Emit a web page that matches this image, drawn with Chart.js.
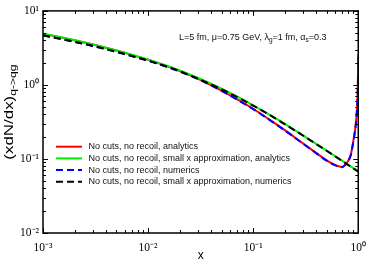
<!DOCTYPE html>
<html>
<head>
<meta charset="utf-8">
<script src="https://cdn.jsdelivr.net/npm/chart.js@4.4.1/dist/chart.umd.min.js"></script>
<style>
  html, body { margin: 0; padding: 0; background: #fff; }
  #wrap { position: relative; width: 374px; height: 260px; }
</style>
</head>
<body>
<div id="wrap"><canvas id="c" width="374" height="260"></canvas></div>
<script>
// x grid shared by all curves
const xs = [0.001, 0.002, 0.003, 0.005, 0.007, 0.01, 0.015, 0.02, 0.03, 0.05, 0.07, 0.1, 0.15, 0.2, 0.3, 0.4, 0.5, 0.6, 0.7, 0.75, 0.8, 0.85, 0.9, 0.93, 0.96, 0.98, 0.99, 0.995, 0.999];

const analytics = [4.92, 4.01, 3.51, 2.91, 2.55, 2.19, 1.80, 1.545, 1.21, 0.84, 0.645, 0.477, 0.325, 0.245, 0.161, 0.120, 0.0955, 0.083, 0.078, 0.083, 0.094, 0.115, 0.179, 0.24, 0.36, 0.59, 0.94, 1.49, 2.6];
const smallXAnalytics = [4.93, 4.02, 3.52, 2.92, 2.56, 2.20, 1.825, 1.572, 1.243, 0.891, 0.700, 0.531, 0.381, 0.297, 0.207, 0.159, 0.1297, 0.1095, 0.0948, 0.0888, 0.0836, 0.0789, 0.0748, 0.0725, 0.0704, 0.0690, 0.0684, 0.0682, 0.0680];
const numerics = [4.67, 3.82, 3.35, 2.79, 2.45, 2.12, 1.76, 1.52, 1.195, 0.83, 0.637, 0.472, 0.322, 0.243, 0.160, 0.119, 0.0948, 0.0825, 0.0775, 0.0825, 0.093, 0.113, 0.175, 0.235, 0.35, 0.57, 0.88, 1.15, 1.36];
const smallXNumerics = [4.68, 3.83, 3.36, 2.80, 2.46, 2.13, 1.775, 1.535, 1.21, 0.875, 0.690, 0.525, 0.378, 0.295, 0.206, 0.158, 0.129, 0.109, 0.0944, 0.0884, 0.0832, 0.0786, 0.0745, 0.0722, 0.0701, 0.0687, 0.0681, 0.0679, 0.0677];

const labels = [
  'No cuts, no recoil, analytics',
  'No cuts, no recoil, small x approximation, analytics',
  'No cuts, no recoil, numerics',
  'No cuts, no recoil, small x approximation, numerics'
];
const colors = ['#ff0000', '#00ee00', '#0000ff', '#000000'];
const dashes = [[], [], [7, 4], [7, 4]];

const xDecades = [1e-3, 1e-2, 1e-1, 1];
const yDecades = [1e-2, 1e-1, 1, 10];
const sup = { '-': '\u207B', '0': '\u2070', '1': '\u00B9', '2': '\u00B2', '3': '\u00B3' };

const decadeLabel = (v) => {
  const e = String(Math.round(Math.log10(v)));
  return '10' + e.split('').map(c => sup[c]).join('');
}

const toPoints = (ys) => xs.map((x, i) => ({ x, y: ys[i] }));

// draws text runs, some of them as subscripts
const drawRuns = (ctx, runs, x, y, size) => {
  let cx = x;
  for (let r of runs) {
    ctx.font = `${r.sub ? size * 0.72 : size}px "Liberation Sans"`;
    ctx.fillText(r.t, cx, r.sub ? y + size * 0.25 : y);
    cx += ctx.measureText(r.t).width;
  }
}
const runsWidth = (ctx, runs, size) => runs.reduce((w, r) => {
  ctx.font = `${r.sub ? size * 0.72 : size}px "Liberation Sans"`;
  return w + ctx.measureText(r.t).width;
}, 0);

const decorations = {
  id: 'decorations',
  afterDatasetsDraw(chart) {
    const { ctx, chartArea: a, scales: { x, y } } = chart;
    ctx.save();
    ctx.strokeStyle = '#000';
    ctx.lineWidth = 1;
    ctx.setLineDash([]);
    ctx.beginPath();
    for (let d of xDecades) {
      for (let m = 1; m <= 9; m++) {
        const v = d * m;
        if (v > 1.0001) break;
        const px = Math.round(x.getPixelForValue(v)) + 0.5;
        const len = m === 1 ? 5 : 3;
        ctx.moveTo(px, a.bottom); ctx.lineTo(px, a.bottom - len);
        ctx.moveTo(px, a.top); ctx.lineTo(px, a.top + len);
      }
    }
    for (let d of yDecades) {
      for (let m = 1; m <= 9; m++) {
        const v = d * m;
        if (v > 10.0001) break;
        const py = Math.round(y.getPixelForValue(v)) + 0.5;
        const len = m === 1 ? 5 : 3;
        ctx.moveTo(a.left, py); ctx.lineTo(a.left + len, py);
        ctx.moveTo(a.right, py); ctx.lineTo(a.right - len, py);
      }
    }
    ctx.stroke();
    ctx.lineWidth = 1.5;
    ctx.strokeRect(a.left, a.top, a.right - a.left, a.bottom - a.top);

    // legend
    ctx.lineWidth = 2;
    ctx.fillStyle = '#111';
    ctx.textBaseline = 'middle';
    labels.forEach((label, i) => {
      const ly = 146.7 + i * 11.7;
      ctx.strokeStyle = colors[i];
      ctx.setLineDash(dashes[i]);
      ctx.beginPath();
      ctx.moveTo(56, ly); ctx.lineTo(82, ly);
      ctx.stroke();
      ctx.font = '9px "Liberation Sans"';
      ctx.fillText(label, 88.5, ly);
    });
    ctx.setLineDash([]);

    // parameters note
    ctx.textBaseline = 'alphabetic';
    drawRuns(ctx, [
      { t: 'L=5 fm, \u03BC=0.75 GeV, \u03BB' }, { t: 'g', sub: true },
      { t: '=1 fm, \u03B1' }, { t: 's', sub: true }, { t: '=0.3' }
    ], 179, 40, 9);

    // y axis title, stretched along its baseline like the original
    const yRuns = [{ t: '(xdN/dx)' }, { t: 'q->qg', sub: true }];
    const stretch = 1.3;
    const w = runsWidth(ctx, yRuns, 13) * stretch;
    ctx.translate(12.5, 112);
    ctx.rotate(-Math.PI / 2);
    ctx.scale(stretch, 1);
    ctx.fillStyle = '#000';
    drawRuns(ctx, yRuns, -w / 2 / stretch, 0, 13);
    ctx.restore();
  }
};

const datasets = [analytics, smallXAnalytics, numerics, smallXNumerics].map((ys, i) => ({
  label: labels[i],
  data: toPoints(ys),
  borderColor: colors[i],
  borderDash: dashes[i],
  borderWidth: 2,
  pointRadius: 0,
  fill: false,
  cubicInterpolationMode: 'monotone',
  order: 4 - i
}));

new Chart(document.getElementById('c'), {
  type: 'line',
  data: { datasets },
  options: {
    responsive: false,
    animation: false,
    layout: { padding: { top: 8, right: 9, left: 0, bottom: 0 } },
    plugins: { legend: { display: false }, tooltip: { enabled: false } },
    scales: {
      x: {
        type: 'logarithmic',
        min: 1e-3,
        max: 1,
        afterBuildTicks: (s) => { s.ticks = xDecades.map(value => ({ value })); },
        afterFit: (s) => { s.height = 27; },
        grid: { display: false, drawTicks: false },
        border: { display: false },
        ticks: {
          callback: decadeLabel,
          color: '#000',
          padding: 8,
          maxRotation: 0,
          autoSkip: false,
          font: { family: '"Liberation Serif"', size: 11.5 }
        },
        title: {
          display: true,
          text: 'x',
          color: '#000',
          padding: { top: 0, bottom: -3 },
          font: { family: '"Liberation Sans"', size: 12 }
        }
      },
      y: {
        type: 'logarithmic',
        min: 1e-2,
        max: 10,
        afterBuildTicks: (s) => { s.ticks = yDecades.map(value => ({ value })); },
        afterFit: (s) => { s.width = 43; },
        grid: { display: false, drawTicks: false },
        border: { display: false },
        ticks: {
          callback: decadeLabel,
          color: '#000',
          padding: 4,
          autoSkip: false,
          font: { family: '"Liberation Serif"', size: 11.5 }
        }
      }
    }
  },
  plugins: [decorations]
});
</script>
</body>
</html>
